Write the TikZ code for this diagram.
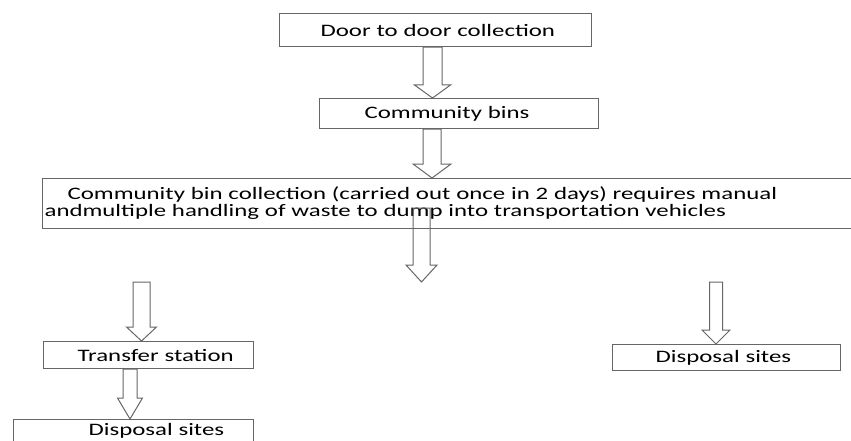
\documentclass[tikz,border=0pt]{standalone}
\usepackage{fontspec}
\newfontfamily\boxfont[FakeStretch=1.42]{Carlito}
\usetikzlibrary{calc}

% hollow block arrow: x, from, to, half shaft, half head, head length
\newcommand{\blockarrow}[6]{%
  \draw[blockarrow] let \p1=(#2), \p2=(#3) in
    ({(#1-#4)*1pt},\y1) -- ({(#1-#4)*1pt},{\y2+#6pt}) -- ({(#1-#5)*1pt},{\y2+#6pt})
    -- ({#1*1pt},\y2) -- ({(#1+#5)*1pt},{\y2+#6pt}) -- ({(#1+#4)*1pt},{\y2+#6pt})
    -- ({(#1+#4)*1pt},\y1) -- cycle;
}

\begin{document}
\begin{tikzpicture}[x=1pt,y=1pt,
  box/.style={rectangle,draw=black!60,line width=1.2pt,anchor=north west,
              inner xsep=0pt,inner ysep=0pt,align=left,
              font=\boxfont\fontsize{17.5pt}{17pt}\selectfont},
  blockarrow/.style={draw=black!60,line width=1pt,line join=miter}
]
\useasboundingbox (0,0) rectangle (851,-441);

% ===== COLLECTION =====
\node[box,text width=312pt,minimum height=33pt] (door) at (279,-13)
  {\noindent\hspace*{41pt}Door to door collection};
\node[box,text width=279pt,minimum height=30pt] (bins) at (319,-98)
  {\noindent\hspace*{45pt}Community bins};

\blockarrow{432.5}{door.south}{bins.north}{9.5}{18}{13}

% ===== BIN COLLECTION =====
\node[box,text width=819pt,minimum height=50pt] (collect) at (42,-178)
  {\noindent\hspace*{25pt}Community bin collection (carried out once in 2 days) requires manual\\
   \hspace*{2pt}andmultiple handling of waste to dump into transportation vehicles};

\blockarrow{432}{bins.south}{collect.north}{9}{19}{14}

\coordinate (dumpin) at (421.5,-208);
\coordinate (split) at (421.5,-282);
\blockarrow{421.5}{dumpin}{split}{8.5}{15.5}{17}

% ===== DESTINATIONS =====
\node[box,text width=210pt,minimum height=27pt] (transfer) at (43,-341)
  {\noindent\hspace*{34pt}Transfer station};
\node[box,text width=240pt,minimum height=23pt] (displeft) at (13,-419)
  {\noindent\hspace*{75pt}Disposal sites};
\node[box,text width=228pt,minimum height=26pt] (dispright) at (612,-344)
  {\noindent\hspace*{43pt}Disposal sites};

\coordinate (leftin) at (141.5,-282);
\coordinate (rightin) at (716,-282);

\blockarrow{141.5}{leftin}{transfer.north}{8.5}{15}{14}
\blockarrow{130}{transfer.south}{displeft.north}{7}{12.5}{21}
\blockarrow{716}{rightin}{dispright.north}{6.5}{14}{14}

\end{tikzpicture}
\end{document}
